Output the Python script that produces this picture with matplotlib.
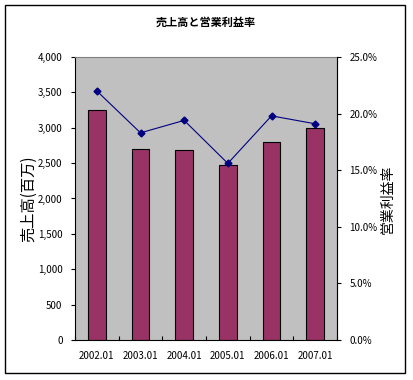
import matplotlib
matplotlib.use("Agg")
import matplotlib.pyplot as plt
from matplotlib.patches import Rectangle
from matplotlib.ticker import FuncFormatter, FixedLocator
import numpy as np

plt.rcParams['font.family'] = ['Noto Sans CJK JP', 'DejaVu Sans']

categories = ["2002.01", "2003.01", "2004.01", "2005.01", "2006.01", "2007.01"]
sales = [3250, 2700, 2680, 2480, 2800, 3000]
margin = [22.0, 18.3, 19.4, 15.6, 19.8, 19.1]
title = "売上高と営業利益率"
left_label = "売上高(百万)"
right_label = "営業利益率"

W, H = 413, 380
fig = plt.figure(figsize=(W / 100, H / 100), dpi=100)
fig.patch.set_facecolor("white")

# outer frame
fig.patches.append(Rectangle((5 / W, (H - 373) / H), 400 / W, 368 / H,
                             transform=fig.transFigure, fill=False,
                             edgecolor="black", linewidth=1.0))

ax = fig.add_axes([75 / W, (H - 340) / H, (337 - 75) / W, (340 - 57) / H])
ax.set_facecolor("#C0C0C0")
x = np.arange(len(categories))
ax.bar(x, sales, width=0.41, color="#993366", edgecolor="black", linewidth=0.8, zorder=2)
ax.set_xlim(-0.5, len(categories) - 0.5)
ax.set_ylim(0, 4000)
ax.set_yticks(np.arange(0, 4001, 500))
ax.yaxis.set_major_formatter(FuncFormatter(lambda v, p: f"{int(v):,}"))
ax.set_xticks(x)
ax.set_xticklabels(categories)
ax.xaxis.set_minor_locator(FixedLocator(np.arange(-0.5, len(categories), 1.0)))
ax.tick_params(axis="x", which="major", length=0, pad=8, labelsize=7)
ax.tick_params(axis="x", which="minor", length=3, direction="in", width=0.8)
ax.tick_params(axis="y", length=3, direction="out", width=0.8, pad=6, labelsize=7)
for s in ["top", "right"]:
    ax.spines[s].set_color("#808080")
    ax.spines[s].set_linewidth(0.8)
ax.spines["left"].set_linewidth(0.8)
ax.spines["bottom"].set_linewidth(0.8)
ax.set_ylabel(left_label, fontsize=11)
ax.yaxis.set_label_coords((37 - 75) / 262, 0.5)

ax2 = ax.twinx()
ax2.plot(x, margin, color="#000080", linewidth=0.8, marker="D", markersize=3.5, zorder=3)
ax2.set_ylim(0, 25)
ax2.set_yticks(np.arange(0, 25.1, 5))
ax2.yaxis.set_major_formatter(FuncFormatter(lambda v, p: f"{v:.1f}%"))
ax2.tick_params(axis="y", length=3, direction="out", width=0.8, pad=6, labelsize=7)
ax2.spines["right"].set_color("black")
ax2.spines["right"].set_linewidth(0.8)
ax2.spines["top"].set_visible(False)
ax2.spines["left"].set_visible(False)
ax2.spines["bottom"].set_visible(False)
ax2.set_ylabel(right_label, fontsize=10)
ax2.yaxis.set_label_coords((381 - 75) / 262, (340 - 199) / 283)

fig.text(206 / W, 1 - 22 / H, title, ha="center", va="center", fontsize=8, fontweight="bold")

fig.savefig("out.png", dpi=100)
